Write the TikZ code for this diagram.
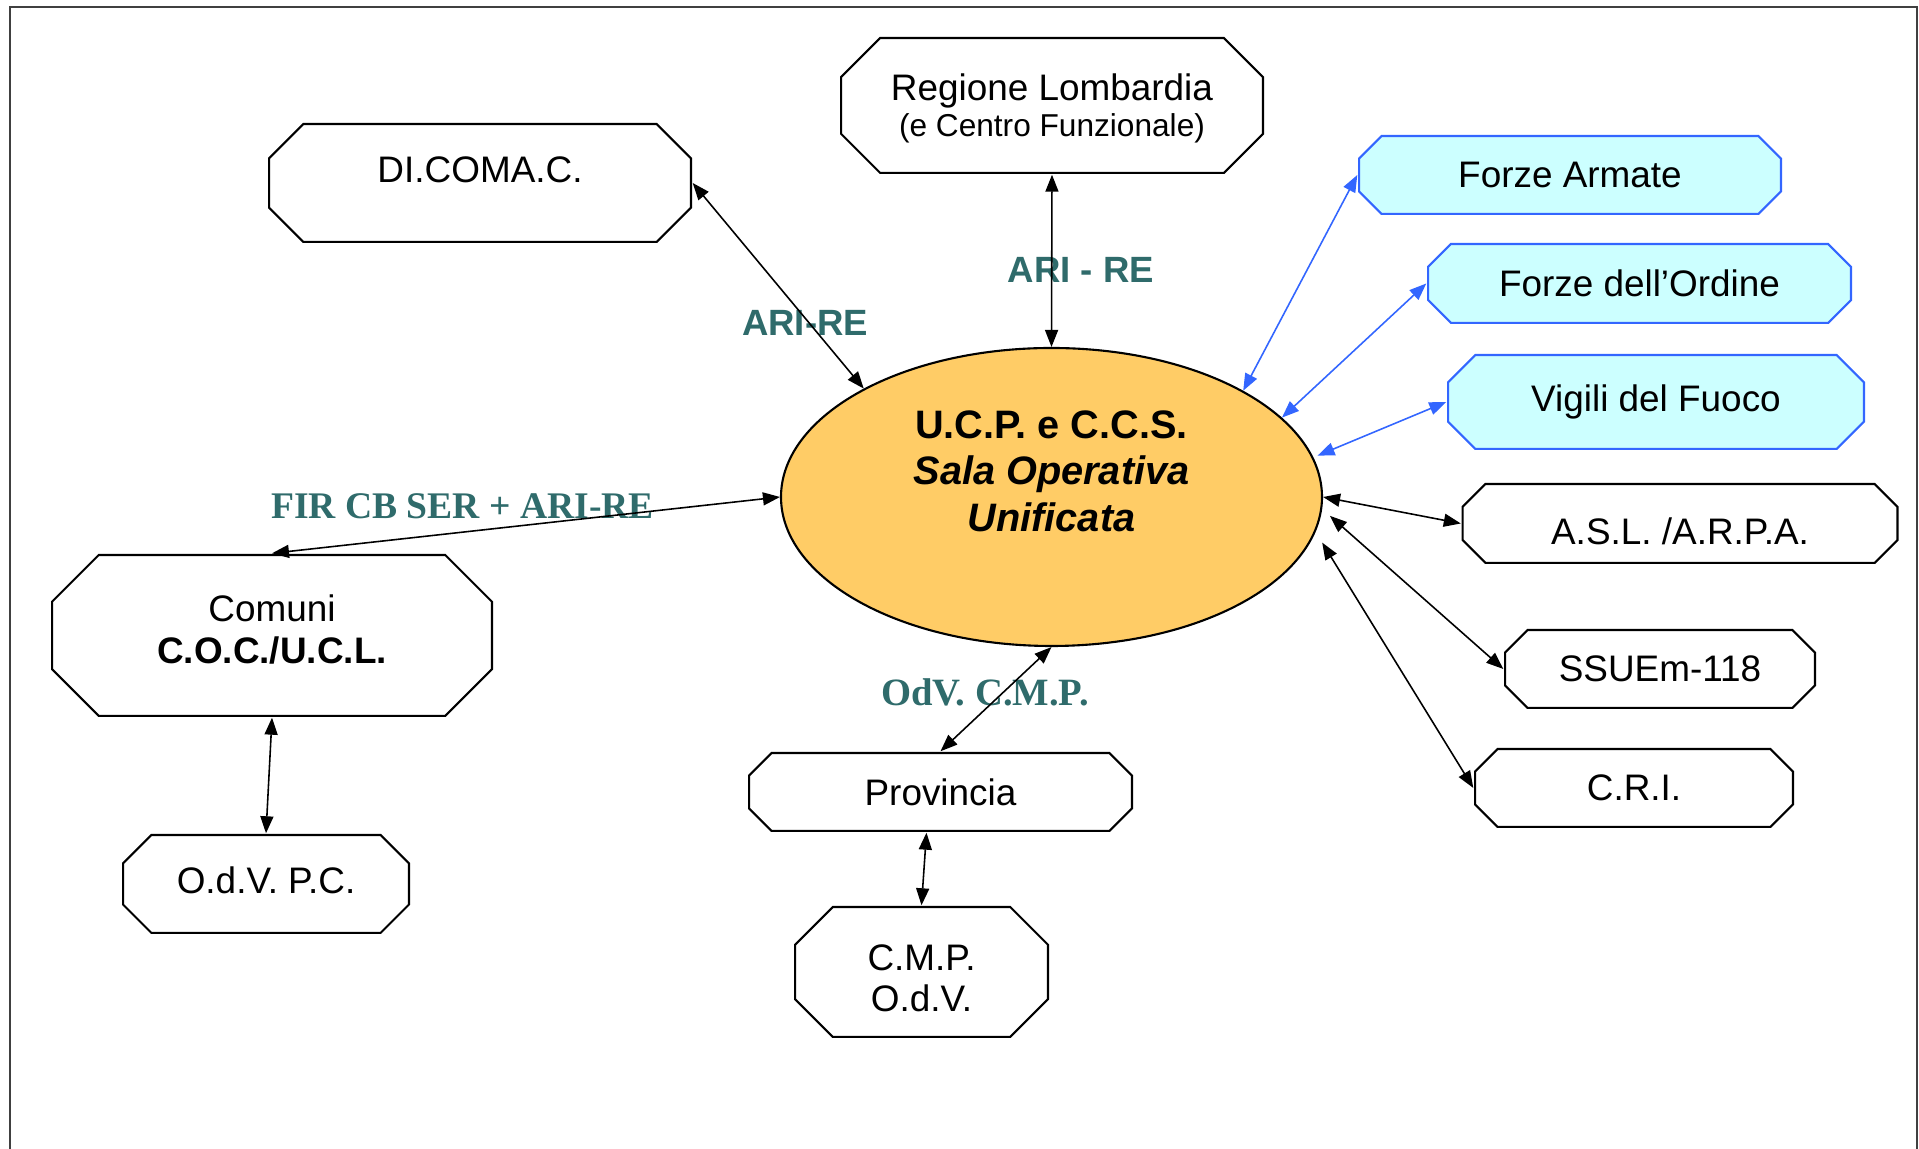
\documentclass[tikz,border=0pt]{standalone}
\usepackage{fontspec}
\setmainfont{Liberation Sans}
\newfontfamily\timesfamily{Liberation Serif}
\usetikzlibrary{shapes.geometric,calc,arrows.meta}

\definecolor{ucporange}{RGB}{255,204,102}
\definecolor{forzecyan}{RGB}{204,255,255}
\definecolor{forzeblue}{RGB}{51,102,255}
\definecolor{radiogreen}{RGB}{47,107,107}

\tikzset{
  octbox/.style 2 args={rectangle, align=center, inner sep=0pt,
    font=\fontsize{10.5}{11.8}\selectfont,
    path picture={
      \draw[draw=#1, fill=#2, line width=0.6pt]
        let \p1=([shift={(-0.3pt,-0.3pt)}]path picture bounding box.north east),
            \p2=([shift={(0.3pt,0.3pt)}]path picture bounding box.south west),
            \n1={0.29*(\y1-\y2)} in
        (\x2+\n1,\y1) -- (\x1-\n1,\y1) -- (\x1,\y1-\n1) -- (\x1,\y2+\n1)
        -- (\x1-\n1,\y2) -- (\x2+\n1,\y2) -- (\x2,\y2+\n1) -- (\x2,\y1-\n1) -- cycle;
    }},
  ente/.style={octbox={black}{white}},
  forze/.style={octbox={forzeblue}{forzecyan}},
  radio/.style={text=radiogreen, font=\fontsize{10.4}{12}\selectfont\bfseries},
  link/.style={{Triangle[length=1.7mm,width=1.3mm]}-{Triangle[length=1.7mm,width=1.3mm]},
    line width=0.45pt},
}

\begin{document}
\begin{tikzpicture}
  \useasboundingbox (0,0) rectangle (19.19,11.49);
  \draw[black!75, line width=0.6pt] (0.10,-0.1) -- (0.10,11.42) -- (19.17,11.42) -- (19.17,-0.1);

  % sala operativa
  \node[ellipse, draw, line width=0.6pt, fill=ucporange, minimum width=5.41cm,
    minimum height=2.98cm, align=center, text depth=0.52cm,
    font=\fontsize{11.3}{13.3}\selectfont\bfseries] (ucp) at (10.515,6.52)
    {U.C.P. e C.C.S.\\{\itshape Sala Operativa}\\{\itshape Unificata}};

  % enti
  \node[ente, minimum width=4.24cm, minimum height=1.37cm, text depth=0cm] (regione) at (10.52,10.435)
    {Regione Lombardia\\[-1.5pt]{\fontsize{9}{10}\selectfont (e Centro Funzionale)}};
  \node[ente, minimum width=4.24cm, minimum height=1.20cm, text depth=0.27cm] (dicomac) at (4.80,9.66) {DI.COMA.C.};
  \node[forze, minimum width=4.24cm, minimum height=0.80cm] (armate) at (15.70,9.74) {Forze Armate};
  \node[forze, minimum width=4.25cm, minimum height=0.81cm] (ordine) at (16.395,8.655) {Forze dell’Ordine};
  \node[forze, minimum width=4.18cm, minimum height=0.96cm] (vigili) at (16.56,7.47) {Vigili del Fuoco};
  \node[ente, minimum width=4.37cm, minimum height=0.81cm, text height=0.43cm] (asl) at (16.80,6.255) {A.S.L. /A.R.P.A.};
  \node[ente, minimum width=3.12cm, minimum height=0.80cm] (ssuem) at (16.60,4.80) {SSUEm-118};
  \node[ente, minimum width=3.20cm, minimum height=0.80cm] (cri) at (16.34,3.61) {C.R.I.};
  \node[ente, minimum width=4.42cm, minimum height=1.63cm, text depth=0.13cm] (comuni) at (2.72,5.135) {Comuni\\\textbf{C.O.C./U.C.L.}};
  \node[ente, minimum width=2.88cm, minimum height=1.00cm, text depth=0.08cm] (odvpc) at (2.66,2.65) {O.d.V. P.C.};
  \node[ente, minimum width=3.85cm, minimum height=0.80cm] (prov) at (9.405,3.57) {Provincia};
  \node[ente, minimum width=2.55cm, minimum height=1.32cm, text height=0.80cm] (cmp) at (9.215,1.77) {C.M.P.\\O.d.V.};

  % collegamenti radio
  \node[radio] (ariredi) at (8.05,8.26) {ARI-RE};
  \node[radio] (arireg) at (10.81,8.79) {ARI - RE};
  \node[radio, font=\fontsize{10.7}{12}\selectfont\timesfamily\bfseries] (fircb) at (4.625,6.43) {FIR CB SER + ARI-RE};
  \node[radio, font=\fontsize{11}{13}\selectfont\timesfamily\bfseries] (odvcmp) at (9.85,4.57) {OdV. C.M.P.};

  \draw[link] (dicomac.east) -- (ucp.150.9);
  \draw[link] (regione.south) -- (ucp.north);
  \draw[link, forzeblue] (armate.west) -- (ucp.29.1);
  \draw[link, forzeblue] (ordine.west) -- (ucp.19.2);
  \draw[link, forzeblue] ([xshift=0.5mm]ucp.9.4) -- (vigili.west);
  \draw[link] (ucp.east) -- (asl.west);
  \draw[link] ([xshift=0.9mm]ucp.-4) -- (ssuem.west);
  \draw[link] ([xshift=1.2mm]ucp.-10) -- (cri.west);
  \draw[link] (ucp.west) -- (comuni.north);
  \draw[link] (comuni.south) -- (odvpc.north);
  \draw[link] (ucp.south) -- (prov.north);
  \draw[link] ([xshift=-1.4mm]prov.south) -- (cmp.north);
\end{tikzpicture}
\end{document}
